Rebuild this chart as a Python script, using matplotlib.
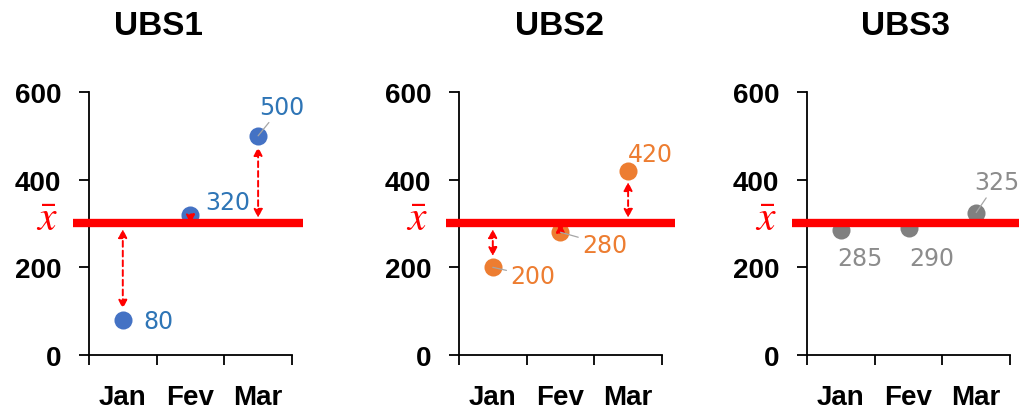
import numpy as np
import matplotlib.pyplot as plt

plt.rcParams['font.family'] = ['Liberation Sans', 'DejaVu Sans']
plt.rcParams['mathtext.fontset'] = 'stix'

months = ['Jan', 'Fev', 'Mar']
units = ['UBS1', 'UBS2', 'UBS3']

ubs1 = [80, 320, 500]
ubs2 = [200, 280, 420]
ubs3 = [285, 290, 325]
series = [ubs1, ubs2, ubs3]

yticks = [0, 200, 400, 600]

marker_colors = ['#4472C4', '#ED7D31', '#808080']
label_colors = ['#2E75B6', '#ED7D31', '#8C8C8C']

# label offsets (points) from each marker, and whether a leader line is drawn
label_offsets = [
    [(26, -1), (27, 9), (17, 21)],
    [(29, -6.5), (32, -9), (16, 12)],
    [(14, -20), (17, -22), (15, 22)],
]
leaders = [
    [False, False, True],
    [True, True, False],
    [False, False, True],
]
show_arrows = [True, True, False]

# axes placement in figure fraction
lefts = [0.0873, 0.4504, 0.7920]
title_x = [0.155, 0.5495, 0.889]
line_ext = [(-0.74, 2.66), (-0.69, 2.69), (-0.72, 2.70)]

fig = plt.figure(figsize=(10.19, 4.14), dpi=100)

for k in range(3):
    ax = fig.add_axes([lefts[k], 0.1401, 0.1992, 0.6353])
    vals = series[k]
    x = np.arange(len(months))
    mean = np.mean(vals)

    ax.plot(x, vals, 'o', ms=13, color=marker_colors[k], mec='none', zorder=3)

    # mean line, running past both ends of the x axis
    ax.plot(line_ext[k], [mean, mean], color='red', lw=6,
            solid_capstyle='butt', clip_on=False, zorder=4)

    ax.annotate(r'$\bar{x}$', xy=(0, mean), xycoords=ax.get_yaxis_transform(),
                xytext=(-30, 3), textcoords='offset points', ha='center',
                va='center', color='red', fontsize=30, annotation_clip=False)

    # deviation arrows between the mean and each value
    if show_arrows[k]:
        for i, v in enumerate(vals):
            small = abs(v - mean) < 30
            ax.annotate('', xy=(i, v), xytext=(i, mean),
                        arrowprops=dict(arrowstyle='<|-|>,head_length=0.5,head_width=0.25',
                                        color='red', lw=1.4, ls=(0, (3, 2)),
                                        shrinkA=0 if small else 4,
                                        shrinkB=0 if small else 8),
                        zorder=5)

    for i, v in enumerate(vals):
        props = None
        if leaders[k][i]:
            props = dict(arrowstyle='-', color='#A6A6A6', lw=0.9,
                         shrinkA=1, shrinkB=0)
        ax.annotate(str(v), xy=(i, v), xytext=label_offsets[k][i],
                    textcoords='offset points', ha='center', va='center',
                    fontsize=17, color=label_colors[k], family='DejaVu Sans',
                    arrowprops=props, zorder=6)

    ax.set_xlim(-0.5, 2.5)
    ax.set_ylim(0, 600)
    ax.set_yticks(yticks)
    ax.set_xticks(x)
    ax.set_xticklabels(months)
    ax.set_xticks([-0.5, 0.5, 1.5, 2.5], minor=True)

    for s in ['top', 'right']:
        ax.spines[s].set_visible(False)
    for s in ['left', 'bottom']:
        ax.spines[s].set_linewidth(1.3)

    ax.tick_params(axis='y', direction='out', length=7, width=1.3, pad=13,
                   labelsize=20)
    ax.tick_params(axis='x', which='major', length=0, pad=21, labelsize=20)
    ax.tick_params(axis='x', which='minor', direction='out', length=7, width=1.3)
    for lab in ax.get_xticklabels() + ax.get_yticklabels():
        lab.set_fontweight('bold')

    fig.text(title_x[k], 0.935, units[k], ha='center', va='center',
             fontsize=24, fontweight='bold')

fig.savefig('out.png', dpi=100)
